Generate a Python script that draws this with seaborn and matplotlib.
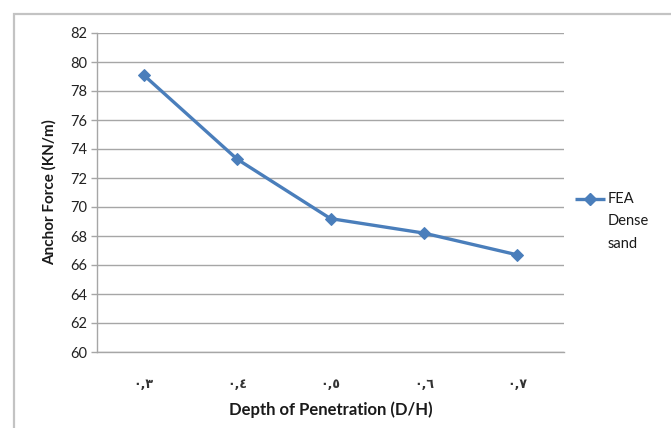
import matplotlib
matplotlib.use("Agg")
import matplotlib.pyplot as plt
from matplotlib.lines import Line2D
from matplotlib.patches import Rectangle
import pandas as pd
import seaborn as sns

# Depth ratios (D/H) written with Arabic-Indic digits, and the FEA anchor forces
depth_labels = ["٠,٣", "٠,٤", "٠,٥", "٠,٦", "٠,٧"]
anchor_force = [79.1, 73.3, 69.2, 68.2, 66.7]
y_ticks = [60, 62, 64, 66, 68, 70, 72, 74, 76, 78, 80, 82]
series_name = "FEA\nDense\nsand"

sns.set_theme(style="white")
plt.rcParams["font.family"] = ["Lato", "DejaVu Sans"]

line_color = "#4a7ebb"
grid_color = "#a6a6a6"

df = pd.DataFrame({"depth": depth_labels, "force": anchor_force})

fig = plt.figure(figsize=(6.71, 4.28), dpi=100)
ax = fig.add_axes([97 / 671, 1 - 352 / 428, (564 - 97) / 671, (352 - 33) / 428])

sns.lineplot(data=df, x="depth", y="force", ax=ax, color=line_color,
             linewidth=2.4, marker="D", markersize=6.5,
             markeredgecolor=line_color, markerfacecolor=line_color,
             sort=False, legend=False)

ax.set_xlim(-0.5, len(depth_labels) - 0.5)
ax.set_ylim(y_ticks[0], y_ticks[-1])
ax.set_yticks(y_ticks)
ax.set_xticks(range(len(depth_labels)))
ax.set_xticklabels(depth_labels, family=["DejaVu Sans"], fontsize=9,
                   fontweight="bold", color="#333333")
ax.tick_params(axis="y", labelsize=10.5, colors="#222222", length=4, width=1,
               color=grid_color, pad=3, left=True)
ax.tick_params(axis="x", length=0, pad=19)

ax.grid(axis="y", color=grid_color, linewidth=1)
ax.grid(axis="x", visible=False)
for side in ["top", "right"]:
    ax.spines[side].set_visible(False)
for side in ["left", "bottom"]:
    ax.spines[side].set_color(grid_color)
    ax.spines[side].set_linewidth(1)

ax.set_xlabel("Depth of Penetration (D/H)", fontsize=12, fontweight="bold",
              labelpad=7, color="#1a1a1a")
ax.set_ylabel("Anchor Force (KN/m)", fontsize=11, fontweight="bold",
              labelpad=10, color="#1a1a1a")

# Legend entry: marker line beside a stacked three-line label
fig.add_artist(Line2D([575 / 671, 605 / 671], [1 - 199 / 428] * 2,
                      transform=fig.transFigure, color=line_color,
                      linewidth=2.4, solid_capstyle="butt"))
fig.add_artist(Line2D([590 / 671], [1 - 199 / 428], transform=fig.transFigure,
                      color=line_color, marker="D", markersize=6.5,
                      linestyle="none"))
fig.text(608 / 671, 1 - 192 / 428, series_name, fontsize=10.5, va="top",
         ha="left", color="#1a1a1a", linespacing=1.75)

# Chart area frame
fig.add_artist(Rectangle((14 / 671, -0.1), 1.2, 1 - 14 / 428 + 0.1,
                         transform=fig.transFigure, fill=False,
                         edgecolor="#c3c3c3", linewidth=1.6))

fig.savefig("out.png", dpi=100, facecolor="white")
